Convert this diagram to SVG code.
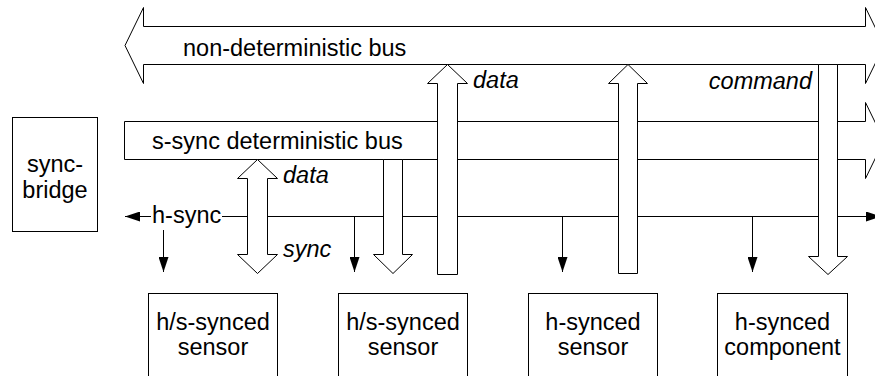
<svg xmlns="http://www.w3.org/2000/svg" width="875" height="376" viewBox="0 0 875 376">
  <style>
    .shape { fill: #ffffff; stroke: #000000; stroke-width: 1; }
    .wire { fill: none; stroke: #000000; stroke-width: 1; }
    .lbl { font-family: "Liberation Sans", Arial, sans-serif; font-size: 23.5px; fill: #000000; }
    .mid { text-anchor: middle; }
    .it { font-style: italic; }
  </style>
  <defs>
    <marker id="tip" viewBox="0 0 15 10" refX="15" refY="5" markerWidth="15" markerHeight="10" markerUnits="userSpaceOnUse" orient="auto">
      <path d="M0,0 L15,5 L0,10 z" fill="#000000"/>
    </marker>
  </defs>
  <rect width="875" height="376" fill="#ffffff"/>

  <!-- non-deterministic bus: double-headed block arrow -->
  <g id="nd-bus">
    <polygon class="shape" points="125,45.5 143.5,7.5 143.5,26.5 865.5,26.5 865.5,7.5 884,45.5 865.5,83.5 865.5,64.5 143.5,64.5 143.5,83.5"/>
    <text class="lbl" x="183" y="56">non-deterministic bus</text>
  </g>

  <!-- s-sync deterministic bus -->
  <g id="s-bus">
    <polygon class="shape" points="124.5,121.5 865.5,121.5 865.5,102.5 884,140.5 865.5,178.5 865.5,159.5 124.5,159.5"/>
    <text class="lbl" x="152" y="149">s-sync deterministic bus</text>
  </g>

  <!-- sync bridge -->
  <g id="sync-bridge">
    <rect class="shape" x="12.5" y="117.5" width="85" height="114"/>
    <text class="lbl mid" x="55" y="172">sync-</text>
    <text class="lbl mid" x="55" y="198">bridge</text>
  </g>

  <!-- h-sync line -->
  <g id="h-sync">
    <line class="wire" x1="151" y1="216.5" x2="125" y2="216.5" marker-end="url(#tip)"/>
    <line class="wire" x1="222" y1="216.5" x2="881" y2="216.5" marker-end="url(#tip)"/>
    <text class="lbl" x="152" y="223">h-sync</text>
  </g>

  <!-- end devices -->
  <g id="sensor-1">
    <rect class="shape" x="148.5" y="293.5" width="129" height="100"/>
    <text class="lbl mid" x="213" y="330">h/s-synced</text>
    <text class="lbl mid" x="213" y="355">sensor</text>
  </g>
  <g id="sensor-2">
    <rect class="shape" x="338.5" y="293.5" width="129" height="100"/>
    <text class="lbl mid" x="403" y="330">h/s-synced</text>
    <text class="lbl mid" x="403" y="355">sensor</text>
  </g>
  <g id="sensor-3">
    <rect class="shape" x="528.5" y="293.5" width="129" height="100"/>
    <text class="lbl mid" x="593" y="330">h-synced</text>
    <text class="lbl mid" x="593" y="355">sensor</text>
  </g>
  <g id="component">
    <rect class="shape" x="717.5" y="293.5" width="130" height="100"/>
    <text class="lbl mid" x="782.5" y="330">h-synced</text>
    <text class="lbl mid" x="782.5" y="355">component</text>
  </g>

  <!-- connectors -->
  <g id="connectors">
    <!-- h-sync drops -->
    <line class="wire" x1="163.5" y1="230" x2="163.5" y2="272" marker-end="url(#tip)"/>
    <line class="wire" x1="354.5" y1="216.5" x2="354.5" y2="272" marker-end="url(#tip)"/>
    <line class="wire" x1="562.5" y1="216.5" x2="562.5" y2="272" marker-end="url(#tip)"/>
    <line class="wire" x1="752.5" y1="216.5" x2="752.5" y2="272" marker-end="url(#tip)"/>

    <!-- data/sync between s-sync bus and sensor 1 -->
    <polygon class="shape" points="257.5,159.5 277.5,178.5 267.5,178.5 267.5,254.5 277.5,254.5 257.5,273.5 237.5,254.5 247.5,254.5 247.5,178.5 237.5,178.5"/>
    <!-- s-sync bus to sensor 2 -->
    <polygon class="shape" points="383.5,159.5 402.5,159.5 402.5,254.5 412.5,254.5 393,273.5 373.5,254.5 383.5,254.5"/>
    <!-- sensor 1 data up to non-deterministic bus -->
    <polygon class="shape" points="447.5,64.5 467.5,83.5 457.5,83.5 457.5,274.5 437.5,274.5 437.5,83.5 427.5,83.5"/>
    <!-- sensor 3 data up -->
    <polygon class="shape" points="628,64.5 647.5,83.5 637.5,83.5 637.5,273.5 618.5,273.5 618.5,83.5 608.5,83.5"/>
    <!-- command down to component -->
    <polygon class="shape" points="818.5,64.5 837.5,64.5 837.5,256.5 847.5,256.5 828,274.5 808.5,256.5 818.5,256.5"/>

    <text class="lbl it" x="283" y="183">data</text>
    <text class="lbl it" x="283" y="257">sync</text>
    <text class="lbl it" x="473" y="88">data</text>
    <text class="lbl it" x="812" y="89" text-anchor="end">command</text>
  </g>
</svg>
